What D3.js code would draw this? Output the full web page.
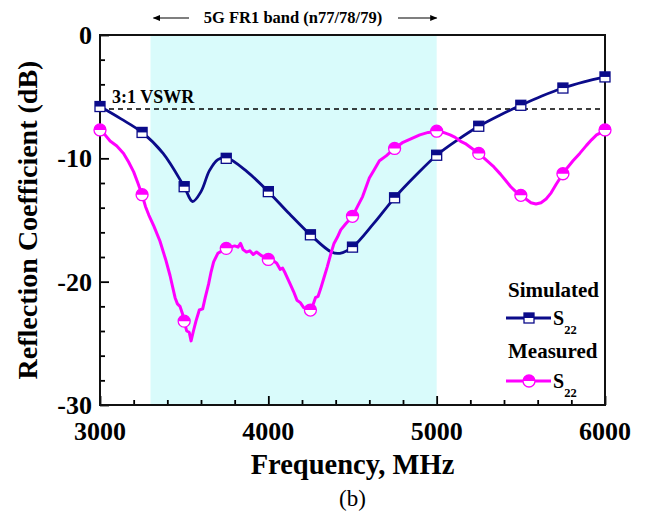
<!DOCTYPE html>
<html lang="en">
<head>
<meta charset="UTF-8">
<title>Reflection Coefficient S22</title>
<script src="https://d3js.org/d3.v7.min.js"></script>
<style>
  body { margin: 0; background: #fff; }
  text { font-family: "Liberation Serif", "Times New Roman", serif; }
</style>
</head>
<body>
<div id="chart"></div>
<script>
// ---- data ----
const markerFreq = [3000, 3250, 3500, 3750, 4000, 4250, 4500, 4750, 5000, 5250, 5500, 5750, 6000]
const simMarkers = [-5.8, -7.9, -12.3, -10.0, -12.7, -16.2, -17.2, -13.2, -9.75, -7.4, -5.7, -4.3, -3.4]
const measMarkers = [-7.7, -12.95, -23.2, -17.3, -18.2, -22.3, -14.7, -9.2, -7.8, -9.6, -13.0, -11.25, -7.7]

const simFreq = [3000, 3125, 3250, 3375, 3500, 3550, 3600, 3650, 3700, 3750, 3875, 4000, 4125, 4250,
  4375, 4425, 4500, 4625, 4750, 4875, 5000, 5125, 5250, 5375, 5500, 5625, 5750, 5875, 6000]
const simVals = [-5.8, -6.8, -7.9, -9.6, -12.3, -13.5, -12.7, -11.0, -10.1, -9.95, -11.1, -12.7, -14.5, -16.2,
  -17.6, -17.7, -17.2, -15.3, -13.2, -11.4, -9.75, -8.5, -7.4, -6.5, -5.7, -4.95, -4.3, -3.8, -3.4]

const measFreq = [3000, 3030, 3060, 3100, 3140, 3170, 3200, 3225, 3250, 3270, 3290, 3320, 3356, 3390, 3416,
  3446, 3460, 3475, 3490, 3500, 3515, 3530, 3541, 3555, 3570, 3590, 3610, 3625, 3645, 3660, 3675, 3700,
  3725, 3750, 3775, 3800, 3820, 3835, 3850, 3870, 3890, 3910, 3930, 3960, 3980, 4000, 4030, 4050, 4070,
  4085, 4100, 4130, 4150, 4170, 4190, 4210, 4230, 4250, 4265, 4280, 4295, 4310, 4330, 4350, 4370, 4390,
  4410, 4430, 4460, 4480, 4500, 4530, 4560, 4600, 4630, 4660, 4700, 4750, 4800, 4850, 4900, 4950, 5000,
  5040, 5080, 5110, 5140, 5170, 5200, 5250, 5300, 5340, 5380, 5410, 5440, 5470, 5500, 5530, 5560, 5590,
  5620, 5650, 5680, 5710, 5750, 5780, 5810, 5850, 5890, 5920, 5950, 5980, 6000]
const measVals = [-7.7, -8.1, -8.6, -9.0, -9.6, -10.3, -11.1, -12.0, -12.95, -13.9, -14.6, -15.5, -16.7, -18.2, -19.5,
  -21.3, -21.8, -22.0, -22.6, -23.2, -24.0, -24.1, -24.8, -24.0, -23.2, -22.3, -22.2, -21.3, -20.2, -19.2, -18.4, -17.7,
  -17.5, -17.3, -17.2, -17.1, -17.2, -16.9, -17.4, -17.6, -17.5, -17.8, -17.6, -17.9, -18.0, -18.2, -18.3, -18.5, -19.0,
  -18.9, -19.3, -20.2, -20.8, -21.5, -21.7, -22.1, -22.2, -22.3, -21.9, -21.3, -21.2, -20.6, -19.7, -18.8, -17.8, -16.9,
  -16.4, -15.8, -15.3, -15.0, -14.7, -13.9, -13.1, -11.6, -10.9, -10.2, -9.8, -9.2, -8.7, -8.4, -8.1, -7.9, -7.8,
  -7.9, -8.1, -8.3, -8.6, -8.8, -9.1, -9.6, -10.2, -10.7, -11.3, -11.8, -12.3, -12.7, -13.0, -13.3, -13.6, -13.7,
  -13.6, -13.3, -12.8, -12.1, -11.25, -10.7, -10.2, -9.6, -8.95, -8.5, -8.1, -7.9, -7.7]

const bandRange = [3300, 5000]
const vswrLevel = -6
const xTicks = [3000, 4000, 5000, 6000]
const yTicks = [0, -10, -20, -30]

// ---- layout ----
const W = 649, H = 514
const margin = {left: 100, right: 44, top: 35, bottom: 109}
const navy = "#0b0b8a", magenta = "#ff00ff"

const svg = d3.select("#chart").append("svg")
    .attr("width", W).attr("height", H)

const x = d3.scaleLinear().domain([3000, 6000]).range([margin.left, W - margin.right])
const y = d3.scaleLinear().domain([-30, 0]).range([H - margin.bottom, margin.top])

// shaded band
svg.append("rect")
    .attr("x", x(bandRange[0])).attr("y", y(0))
    .attr("width", x(bandRange[1]) - x(bandRange[0]))
    .attr("height", y(-30) - y(0))
    .attr("fill", "#d9fbfb")

// vswr line
svg.append("line")
    .attr("x1", x(3000)).attr("x2", x(6000))
    .attr("y1", y(vswrLevel)).attr("y2", y(vswrLevel))
    .attr("stroke", "#000").attr("stroke-width", 1.6)
    .attr("stroke-dasharray", "5,4")
svg.append("text").attr("x", x(3000) + 12).attr("y", y(vswrLevel) - 6)
    .attr("font-size", 18).attr("font-weight", "bold").text("3:1 VSWR")

// axes with inward ticks
const xAxis = d3.axisBottom(x).tickValues(d3.range(3000, 6001, 200))
    .tickSize(-5).tickFormat("")
const gx = svg.append("g").attr("transform", `translate(0,${y(-30)})`).call(xAxis)
gx.selectAll(".tick line").attr("stroke-width", 1.8)
    .attr("y2", d => d % 1000 === 0 ? -9 : -5)
gx.select(".domain").remove()

const yAxis = d3.axisLeft(y).tickValues(d3.range(-30, 1, 2))
    .tickSize(-5).tickFormat("")
const gy = svg.append("g").attr("transform", `translate(${x(3000)},0)`).call(yAxis)
gy.selectAll(".tick line").attr("stroke-width", 1.8)
    .attr("x2", d => d % 10 === 0 ? 9 : 5)
gy.select(".domain").remove()

// frame
svg.append("rect")
    .attr("x", x(3000)).attr("y", y(0))
    .attr("width", x(6000) - x(3000)).attr("height", y(-30) - y(0))
    .attr("fill", "none").attr("stroke", "#111").attr("stroke-width", 2)

// tick labels
svg.selectAll(".xl").data(xTicks).enter().append("text")
    .attr("x", d => x(d)).attr("y", y(-30) + 35)
    .attr("text-anchor", "middle").attr("font-size", 26).attr("font-weight", "bold")
    .text(d => d)
svg.selectAll(".yl").data(yTicks).enter().append("text")
    .attr("x", x(3000) - 8).attr("y", d => y(d) + 9)
    .attr("text-anchor", "end").attr("font-size", 26).attr("font-weight", "bold")
    .text(d => d)

// axis titles
svg.append("text").attr("x", (x(3000) + x(6000)) / 2).attr("y", 474)
    .attr("text-anchor", "middle").attr("font-size", 28.5).attr("font-weight", "bold")
    .text("Frequency, MHz")
svg.append("text").attr("transform", `translate(37,${(y(0) + y(-30)) / 2}) rotate(-90)`)
    .attr("text-anchor", "middle").attr("font-size", 28).attr("font-weight", "bold")
    .text("Reflection Coefficient (dB)")
svg.append("text").attr("x", (x(3000) + x(6000)) / 2).attr("y", 506)
    .attr("text-anchor", "middle").attr("font-size", 23).text("(b)")

// band title + arrows
svg.append("text").attr("x", 293).attr("y", 23)
    .attr("text-anchor", "middle").attr("font-size", 16.5).attr("font-weight", "bold")
    .text("5G FR1 band (n77/78/79)")
const defs = svg.append("defs")
defs.append("marker").attr("id", "arr").attr("viewBox", "0 0 10 10")
    .attr("refX", 9).attr("refY", 5).attr("markerWidth", 9).attr("markerHeight", 6)
    .attr("orient", "auto-start-reverse")
    .append("path").attr("d", "M0,1L10,5L0,9Z").attr("fill", "#000")
svg.append("line").attr("x1", 189).attr("x2", x(bandRange[0]) + 3).attr("y1", 18).attr("y2", 18)
    .attr("stroke", "#000").attr("stroke-width", 1.2).attr("marker-end", "url(#arr)")
svg.append("line").attr("x1", 398).attr("x2", x(bandRange[1])).attr("y1", 18).attr("y2", 18)
    .attr("stroke", "#000").attr("stroke-width", 1.2).attr("marker-end", "url(#arr)")

// curves
const line = d3.line().x(d => x(d[0])).y(d => y(d[1]))
svg.append("path").datum(d3.zip(simFreq, simVals))
    .attr("d", line.curve(d3.curveCatmullRom.alpha(0.5)))
    .attr("fill", "none").attr("stroke", navy).attr("stroke-width", 2.8)
svg.append("path").datum(d3.zip(measFreq, measVals))
    .attr("d", d3.line().x(d => x(d[0])).y(d => y(d[1])))
    .attr("fill", "none").attr("stroke", magenta).attr("stroke-width", 3)
    .attr("stroke-linejoin", "round")

// half filled markers
function squareMark(g, cx, cy) {
  const s = 10
  g.append("rect").attr("x", cx - s / 2).attr("y", cy - s / 2).attr("width", s).attr("height", s)
      .attr("fill", "#fff").attr("stroke", navy).attr("stroke-width", 1.3)
  g.append("rect").attr("x", cx - s / 2).attr("y", cy - s / 2).attr("width", s).attr("height", s / 2)
      .attr("fill", navy)
}
function circleMark(g, cx, cy) {
  const r = 6
  g.append("circle").attr("cx", cx).attr("cy", cy).attr("r", r)
      .attr("fill", "#fff").attr("stroke", magenta).attr("stroke-width", 1.3)
  g.append("path").attr("d", `M${cx - r},${cy} A${r},${r} 0 0 1 ${cx + r},${cy} Z`)
      .attr("fill", magenta)
}
const gm = svg.append("g")
markerFreq.forEach((f, i) => squareMark(gm, x(f), y(simMarkers[i])))
markerFreq.forEach((f, i) => circleMark(gm, x(f), y(measMarkers[i])))

// legend
const lg = svg.append("g")
function legendItem(title, ty, ly, color, mark) {
  lg.append("text").attr("x", 508).attr("y", ty).attr("font-size", 21).attr("font-weight", "bold").text(title)
  lg.append("line").attr("x1", 506).attr("x2", 551).attr("y1", ly).attr("y2", ly)
      .attr("stroke", color).attr("stroke-width", 2.8)
  mark(lg, 529, ly)
  const t = lg.append("text").attr("x", 553).attr("y", ly + 7).attr("font-size", 20).attr("font-weight", "bold")
  t.append("tspan").text("S")
  t.append("tspan").attr("dy", 9).attr("font-size", 12.5).text("22")
}
legendItem("Simulated", 297, 318, navy, squareMark)
legendItem("Measured", 358, 381, magenta, circleMark)
</script>
</body>
</html>
